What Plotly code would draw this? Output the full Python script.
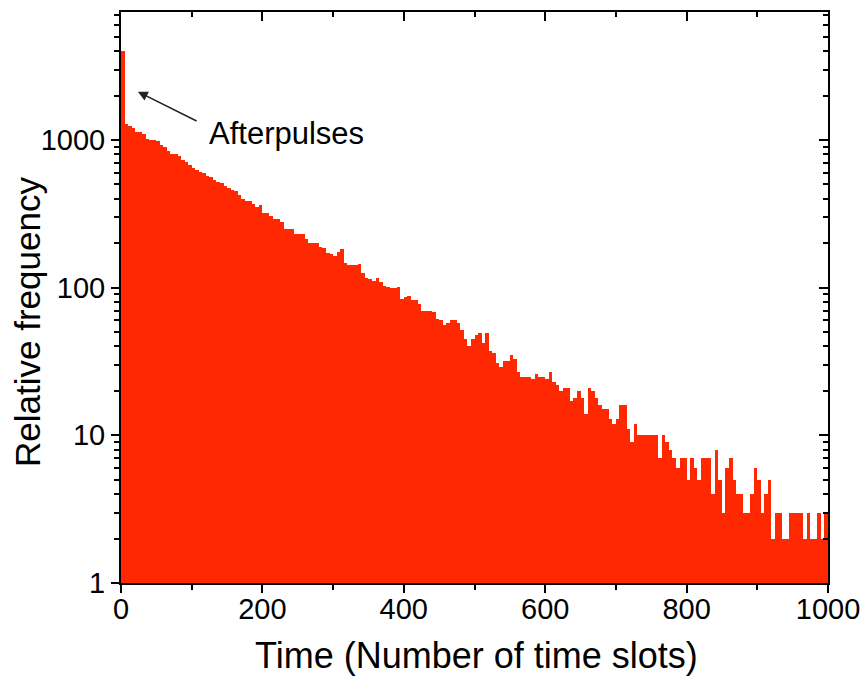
import math
import plotly.graph_objects as go

# Histogram: counts per bin of 5 time slots
BIN_WIDTH = 5
counts = [
    4000, 1280, 1248, 1205, 1140, 1140, 1100, 1020, 1000, 1000,
    980, 930, 900, 840, 805, 805, 775, 730, 710, 680,
    650, 630, 610, 595, 570, 565, 540, 520, 510, 490,
    470, 460, 450, 425, 400, 385, 387, 370, 352, 364,
    322, 318, 305, 290, 290, 280, 250, 250, 250, 232,
    230, 230, 215, 202, 200, 200, 190, 185, 172, 170,
    165, 175, 183, 146, 142, 142, 142, 144, 126, 117,
    115, 111, 117, 110, 103, 101, 100, 100, 101, 84,
    86, 88, 82, 82, 78, 69, 69, 70, 68, 61,
    60, 56, 58, 60, 60, 58, 52, 45, 40, 45,
    48, 49, 42, 49, 37, 36, 31, 29, 32, 32,
    35, 33, 27, 25, 25, 25, 24, 26, 25, 25,
    24, 27, 23, 22, 20, 21, 21, 17, 18, 20,
    18, 14, 21, 20, 18, 16, 15, 15, 13, 12,
    13, 16, 16, 11, 9, 12, 10, 10, 10, 10,
    10, 10, 7, 10, 9, 8, 7, 6, 7, 7,
    5, 7, 6, 5, 7, 7, 7, 4, 8, 5,
    3, 6, 7, 5, 4, 4, 3, 3, 4, 6,
    5, 3, 4, 5, 2, 3, 3, 2, 2, 3,
    3, 3, 3, 2, 3, 2, 2, 3, 2, 3,
]
time_slots = [i * BIN_WIDTH for i in range(len(counts))]

x_ticks = [0, 200, 400, 600, 800, 1000]
y_ticks = [1, 10, 100, 1000]

x_title = "Time (Number of time slots)"
y_title = "Relative frequency"

# annotation values (data units)
arrow_head = (24, 2120)
arrow_tail = (109, 1330)
label_pos = (121, 1110)

FONT = "Liberation Sans, Arial, sans-serif"
RED = "#FF2800"
YMAX = 7360

W, H = 861, 677
ML, MR, MT, MB = 121, 33, 12, 94
PW, PH = W - ML - MR, H - MT - MB

fig = go.Figure()
fig.add_trace(go.Bar(
    x=time_slots, y=counts, width=BIN_WIDTH, offset=0,
    marker=dict(color=RED, line=dict(width=0)),
    showlegend=False, hoverinfo="x+y",
))
# helper trace so the mirrored (inward-tick) axes are drawn
fig.add_trace(go.Scatter(x=[None], y=[None], xaxis="x2", yaxis="y2",
                         showlegend=False, hoverinfo="skip"))

yr = [0, math.log10(YMAX)]

fig.update_layout(
    width=W, height=H,
    margin=dict(l=ML, r=MR, t=MT, b=MB, autoexpand=False),
    paper_bgcolor="white", plot_bgcolor="white",
    bargap=0,
    font=dict(family=FONT, color="black"),
    xaxis=dict(
        range=[0, 1000], tickvals=x_ticks, ticks="outside", ticklen=8, tickwidth=2,
        tickcolor="black", showline=True, linewidth=2, linecolor="black", mirror=True,
        showgrid=False, zeroline=False, automargin=False, ticklabelstandoff=-9,
        minor=dict(ticks="outside", dtick=100, tick0=0, ticklen=5, tickwidth=2, tickcolor="black", showgrid=False),
        tickfont=dict(size=29, family=FONT),
    ),
    yaxis=dict(
        type="log", range=yr, tickvals=y_ticks, ticktext=[str(v) for v in y_ticks],
        ticks="outside", ticklen=8, tickwidth=2, tickcolor="black",
        showline=True, linewidth=2, linecolor="black", mirror=True,
        showgrid=False, zeroline=False, automargin=False,
        minor=dict(ticks="outside", dtick="D1", ticklen=5, tickwidth=2, tickcolor="black", showgrid=False),
        tickfont=dict(size=29, family=FONT),
    ),
    xaxis2=dict(
        overlaying="x", side="top", anchor="y", range=[0, 1000], tickvals=x_ticks,
        ticks="inside", ticklen=9, tickwidth=2, tickcolor="black", automargin=False,
        showticklabels=False, showline=False, showgrid=False, zeroline=False,
        minor=dict(ticks="inside", dtick=100, tick0=0, ticklen=5, tickwidth=2, tickcolor="black", showgrid=False),
    ),
    yaxis2=dict(
        overlaying="y", side="right", anchor="x", type="log", range=yr, tickvals=y_ticks,
        ticks="inside", ticklen=9, tickwidth=2, tickcolor="black", automargin=False,
        showticklabels=False, showline=False, showgrid=False, zeroline=False,
        minor=dict(ticks="inside", dtick="D1", ticklen=5, tickwidth=2, tickcolor="black", showgrid=False),
    ),
    annotations=[
        dict(x=arrow_head[0], y=math.log10(arrow_head[1]), xref="x", yref="y",
             ax=arrow_tail[0], ay=math.log10(arrow_tail[1]), axref="x", ayref="y",
             text="", showarrow=True, arrowhead=2, arrowsize=1.3, arrowwidth=1.5,
             arrowcolor="#222222"),
        dict(x=label_pos[0], y=math.log10(label_pos[1]), xref="x", yref="y",
             text="Afterpulses", showarrow=False, xanchor="left", yanchor="middle",
             font=dict(size=31, family=FONT, color="black")),
        # axis titles placed as paper-anchored texts (positions in page pixels)
        dict(x=(476 - ML) / PW, y=-(655 - (MT + PH)) / PH, xref="paper", yref="paper",
             text=x_title, showarrow=False, xanchor="center", yanchor="middle",
             font=dict(size=36, family=FONT, color="black")),
        dict(x=-(ML - 27) / PW, y=1 - (322 - MT) / PH, xref="paper", yref="paper",
             text=y_title, textangle=-90, showarrow=False, xanchor="center", yanchor="middle",
             font=dict(size=35, family=FONT, color="black")),
    ],
)

# remove the default page margin so the 861x677 figure fills the window exactly
fig.write_html(
    "out.html",
    config={"displayModeBar": False},
    post_script="document.body.style.margin='0';document.body.style.overflow='hidden';",
)
